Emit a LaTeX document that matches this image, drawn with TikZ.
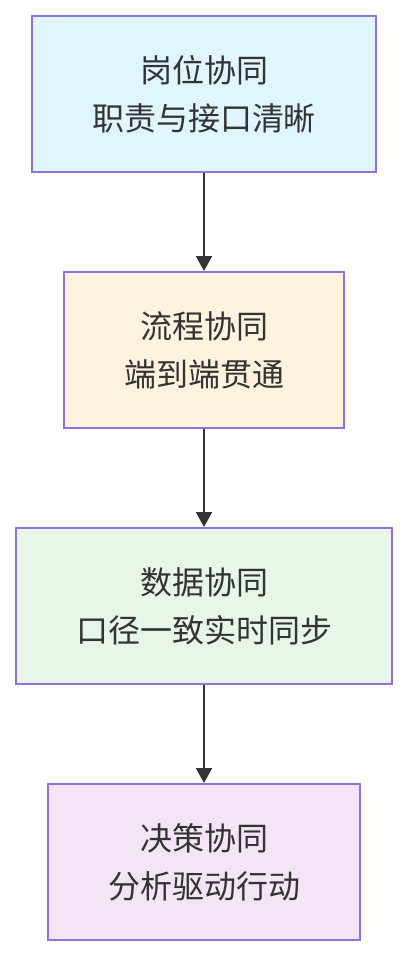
\documentclass[tikz,border=0pt]{standalone}
\usepackage{fontspec}
\setmainfont{Noto Sans CJK SC}
\usetikzlibrary{arrows.meta}
\definecolor{flowborder}{RGB}{147, 112, 219}
\definecolor{flowink}{RGB}{51, 51, 51}
\definecolor{roleblue}{RGB}{225, 245, 254}
\definecolor{processorange}{RGB}{255, 243, 224}
\definecolor{datagreen}{RGB}{232, 245, 233}
\definecolor{decisionpurple}{RGB}{243, 229, 245}

\begin{document}
\begin{tikzpicture}[x=1pt, y=-1pt,
    stagebox/.style={draw=flowborder, line width=2pt, rectangle, text=flowink, minimum height=156pt, inner sep=0pt, align=center, font=\fontsize{32}{48}\selectfont},
    flowarrow/.style={-{Triangle[length=15pt, width=16pt]}, line width=2pt, flowink}]
            \useasboundingbox (0,0) rectangle (408,956);
            \node[stagebox, fill=roleblue, minimum width=344pt] (role) at (204,94) {岗位协同\\职责与接口清晰};
            \node[stagebox, fill=processorange, minimum width=280pt] (process) at (204,350) {流程协同\\端到端贯通};
            \node[stagebox, fill=datagreen, minimum width=376pt] (data) at (204,606) {数据协同\\口径一致实时同步};
            \node[stagebox, fill=decisionpurple, minimum width=312pt] (decision) at (204,862) {决策协同\\分析驱动行动};
            \draw[flowarrow] (role) -- (process);
            \draw[flowarrow] (process) -- (data);
            \draw[flowarrow] (data) -- (decision);
        \end{tikzpicture}
\end{document}
